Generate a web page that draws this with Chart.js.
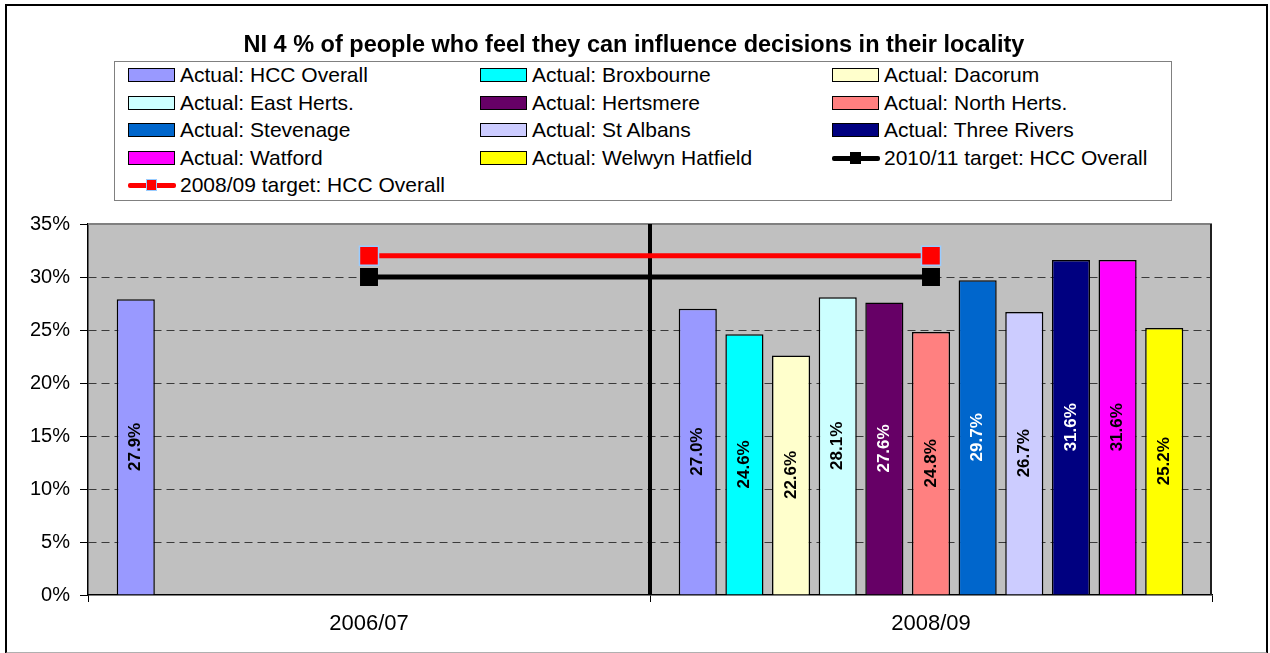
<!DOCTYPE html>
<html>
<head>
<meta charset="utf-8">
<script src="https://cdn.jsdelivr.net/npm/chart.js@4.4.0/dist/chart.umd.min.js"></script>
<style>
    body { margin: 0; background: #fff; font-family: "Liberation Sans", Arial, sans-serif; }
    #wrap { position: relative; width: 1270px; height: 653px; overflow: hidden; }
    #frame { position: absolute; left: 5px; top: 4px; width: 1259px; height: 646px;
             border: 2px solid #000; border-bottom-color: #b0b0b0; }
    #chart { position: absolute; left: 0; top: 0; }
    #title { position: absolute; left: 0; top: 30px; width: 1268px; text-align: center;
             font-weight: bold; font-size: 23.5px; line-height: 28px; }
    #legend { position: absolute; left: 114px; top: 61px; width: 1056px; height: 138px;
              border: 1px solid #808080; background: #fff; }
    .item { position: absolute; height: 22px; font-size: 21px; line-height: 22px; white-space: nowrap; }
    .swatch { position: absolute; left: 0; top: 4px; width: 47px; height: 14px;
              box-sizing: border-box; border: 1.5px solid #000; }
    .lineSw { position: absolute; left: 0; top: 9px; width: 48px; height: 5px; border-radius: 2px; }
    .marker { position: absolute; left: 18px; top: 5px; width: 11px; height: 12px; box-sizing: border-box; }
    .label { position: absolute; left: 52px; top: 0; }
</style>
</head>
<body>
<div id="wrap">
    <div id="frame"></div>
    <canvas id="chart" width="1270" height="653"></canvas>
    <div id="title">NI 4 % of people who feel they can influence decisions in their locality</div>
    <div id="legend"></div>
</div>
<script>
// Categories and values
const categories = ['2006/07', '2008/09'];

const actualHCC = [27.9, 27.0];
const actualBroxbourne = [null, 24.6];
const actualDacorum = [null, 22.6];
const actualEastHerts = [null, 28.1];
const actualHertsmere = [null, 27.6];
const actualNorthHerts = [null, 24.8];
const actualStevenage = [null, 29.7];
const actualStAlbans = [null, 26.7];
const actualThreeRivers = [null, 31.6];
const actualWatford = [null, 31.6];
const actualWelwyn = [null, 25.2];

const target201011 = [30, 30];
const target200809 = [32, 32];

const barNames = ['Actual: HCC Overall', 'Actual: Broxbourne', 'Actual: Dacorum',
    'Actual: East Herts.', 'Actual: Hertsmere', 'Actual: North Herts.',
    'Actual: Stevenage', 'Actual: St Albans', 'Actual: Three Rivers',
    'Actual: Watford', 'Actual: Welwyn Hatfield'];
const barValues = [actualHCC, actualBroxbourne, actualDacorum, actualEastHerts,
    actualHertsmere, actualNorthHerts, actualStevenage, actualStAlbans,
    actualThreeRivers, actualWatford, actualWelwyn];

// Styles
const barColors = ['#9999FF', '#00FFFF', '#FFFFCC', '#CCFFFF', '#660066', '#FF8080',
    '#0066CC', '#CCCCFF', '#000080', '#FF00FF', '#FFFF00'];
const labelColors = ['#000', '#000', '#000', '#000', '#fff', '#000',
    '#fff', '#000', '#fff', '#000', '#000'];

const FONT = '"Liberation Sans", Arial, sans-serif';
Chart.defaults.font.family = FONT;
Chart.defaults.color = '#000';

// Grey plot area, separator line and rotated value labels
const plotDecor = {
    id: 'plotDecor',
    beforeDraw(chart) {
        const { ctx, chartArea: a } = chart;
        ctx.save();
        ctx.fillStyle = '#C0C0C0';
        ctx.fillRect(a.left, a.top, a.right - a.left, a.bottom - a.top);
        ctx.restore();
    },
    beforeDatasetsDraw(chart) {
        const { ctx, chartArea: a, scales: { x } } = chart;
        const mid = (x.getPixelForValue(0) + x.getPixelForValue(1)) / 2;
        ctx.save();
        ctx.strokeStyle = '#808080';
        ctx.lineWidth = 2;
        ctx.beginPath();
        ctx.moveTo(a.left, a.top);
        ctx.lineTo(a.right, a.top);
        ctx.stroke();
        ctx.strokeStyle = '#000';
        ctx.lineWidth = 4;
        ctx.beginPath();
        ctx.moveTo(mid, a.top);
        ctx.lineTo(mid, a.bottom);
        ctx.stroke();
        ctx.strokeStyle = '#202020';
        ctx.lineWidth = 2;
        ctx.beginPath();
        ctx.moveTo(a.right - 1, a.top);
        ctx.lineTo(a.right - 1, a.bottom);
        ctx.stroke();
        ctx.restore();
    },
    afterDatasetsDraw(chart) {
        const { ctx } = chart;
        ctx.save();
        ctx.font = 'bold 17px ' + FONT;
        ctx.textAlign = 'center';
        ctx.textBaseline = 'middle';
        barValues.forEach((vals, i) => {
            const meta = chart.getDatasetMeta(i);
            meta.data.forEach((bar, j) => {
                const v = vals[j];
                if (v == null) return;
                const { x, y, base } = bar.getProps(['x', 'y', 'base'], true);
                ctx.save();
                ctx.translate(x, (y + base) / 2);
                ctx.rotate(-Math.PI / 2);
                ctx.fillStyle = labelColors[i];
                ctx.fillText(v.toFixed(1) + '%', 0, 0);
                ctx.restore();
            });
        });
        ctx.restore();
    }
};

const datasets = barNames.map((name, i) => ({
    label: name,
    data: barValues[i],
    backgroundColor: barColors[i],
    borderColor: '#000',
    borderWidth: 1.5,
    barPercentage: 0.817,
    categoryPercentage: 0.913
}));

datasets.push({
    type: 'line',
    label: '2010/11 target: HCC Overall',
    data: target201011,
    borderColor: '#000',
    borderWidth: 5,
    pointStyle: 'rect',
    pointRadius: 12.7,
    pointBackgroundColor: '#000',
    pointBorderColor: '#000',
    pointBorderWidth: 0,
    order: -1
});
datasets.push({
    type: 'line',
    label: '2008/09 target: HCC Overall',
    data: target200809,
    borderColor: '#FF0000',
    borderWidth: 5,
    pointStyle: 'rect',
    pointRadius: 13.5,
    pointBackgroundColor: '#FF0000',
    pointBorderColor: '#99CCFF',
    pointBorderWidth: 1.5,
    order: -1
});

new Chart(document.getElementById('chart').getContext('2d'), {
    type: 'bar',
    data: { labels: categories, datasets: datasets },
    plugins: [plotDecor],
    options: {
        responsive: false,
        animation: false,
        layout: { padding: { top: 224, right: 58, left: 0, bottom: 0 } },
        plugins: {
            legend: { display: false },
            tooltip: { enabled: false }
        },
        scales: {
            x: {
                offset: true,
                grid: { offset: true, drawOnChartArea: false, tickLength: 7, color: '#000', lineWidth: 1 },
                border: { color: '#000', width: 1.5 },
                ticks: { font: { size: 22 }, padding: 9 },
                afterFit(scale) { scale.height = 58; }
            },
            y: {
                min: 0,
                max: 35,
                ticks: {
                    stepSize: 5,
                    font: { size: 20 },
                    padding: 10,
                    callback: (v) => v + '%'
                },
                grid: {
                    color: (c) => (c.tick && (c.tick.value === 0 || c.tick.value === 35)) ? 'rgba(0,0,0,0)' : '#3a3a3a',
                    lineWidth: 1,
                    tickLength: 8,
                    tickColor: '#000',
                    tickBorderDash: []
                },
                border: { color: '#000', width: 1.5, dash: [8, 5] },
                afterFit(scale) { scale.width = 88; }
            }
        }
    }
});

// HTML legend laid out in three columns like the original
const legendItems = barNames.map((name, i) => ({ name, color: barColors[i], kind: 'bar' }));
legendItems.push({ name: '2010/11 target: HCC Overall', color: '#000', marker: '#000', kind: 'line' });
legendItems.push({ name: '2008/09 target: HCC Overall', color: '#FF0000', marker: '#FF0000', markerBorder: '#99CCFF', kind: 'line' });

const colLeft = [13, 365, 717];
const rowTop = [2, 30, 57, 85, 112];
const legend = document.getElementById('legend');
legendItems.forEach((item, i) => {
    const el = document.createElement('div');
    el.className = 'item';
    el.style.left = colLeft[i % 3] + 'px';
    el.style.top = rowTop[Math.floor(i / 3)] + 'px';
    if (item.kind === 'bar') {
        el.innerHTML = `<span class="swatch" style="background:${item.color}"></span>`;
    } else {
        const bd = item.markerBorder ? `border:1.5px solid ${item.markerBorder};` : '';
        el.innerHTML = `<span class="lineSw" style="background:${item.color}"></span>` +
            `<span class="marker" style="background:${item.marker};${bd}"></span>`;
    }
    el.innerHTML += `<span class="label">${item.name}</span>`;
    legend.appendChild(el);
});
</script>
</body>
</html>
